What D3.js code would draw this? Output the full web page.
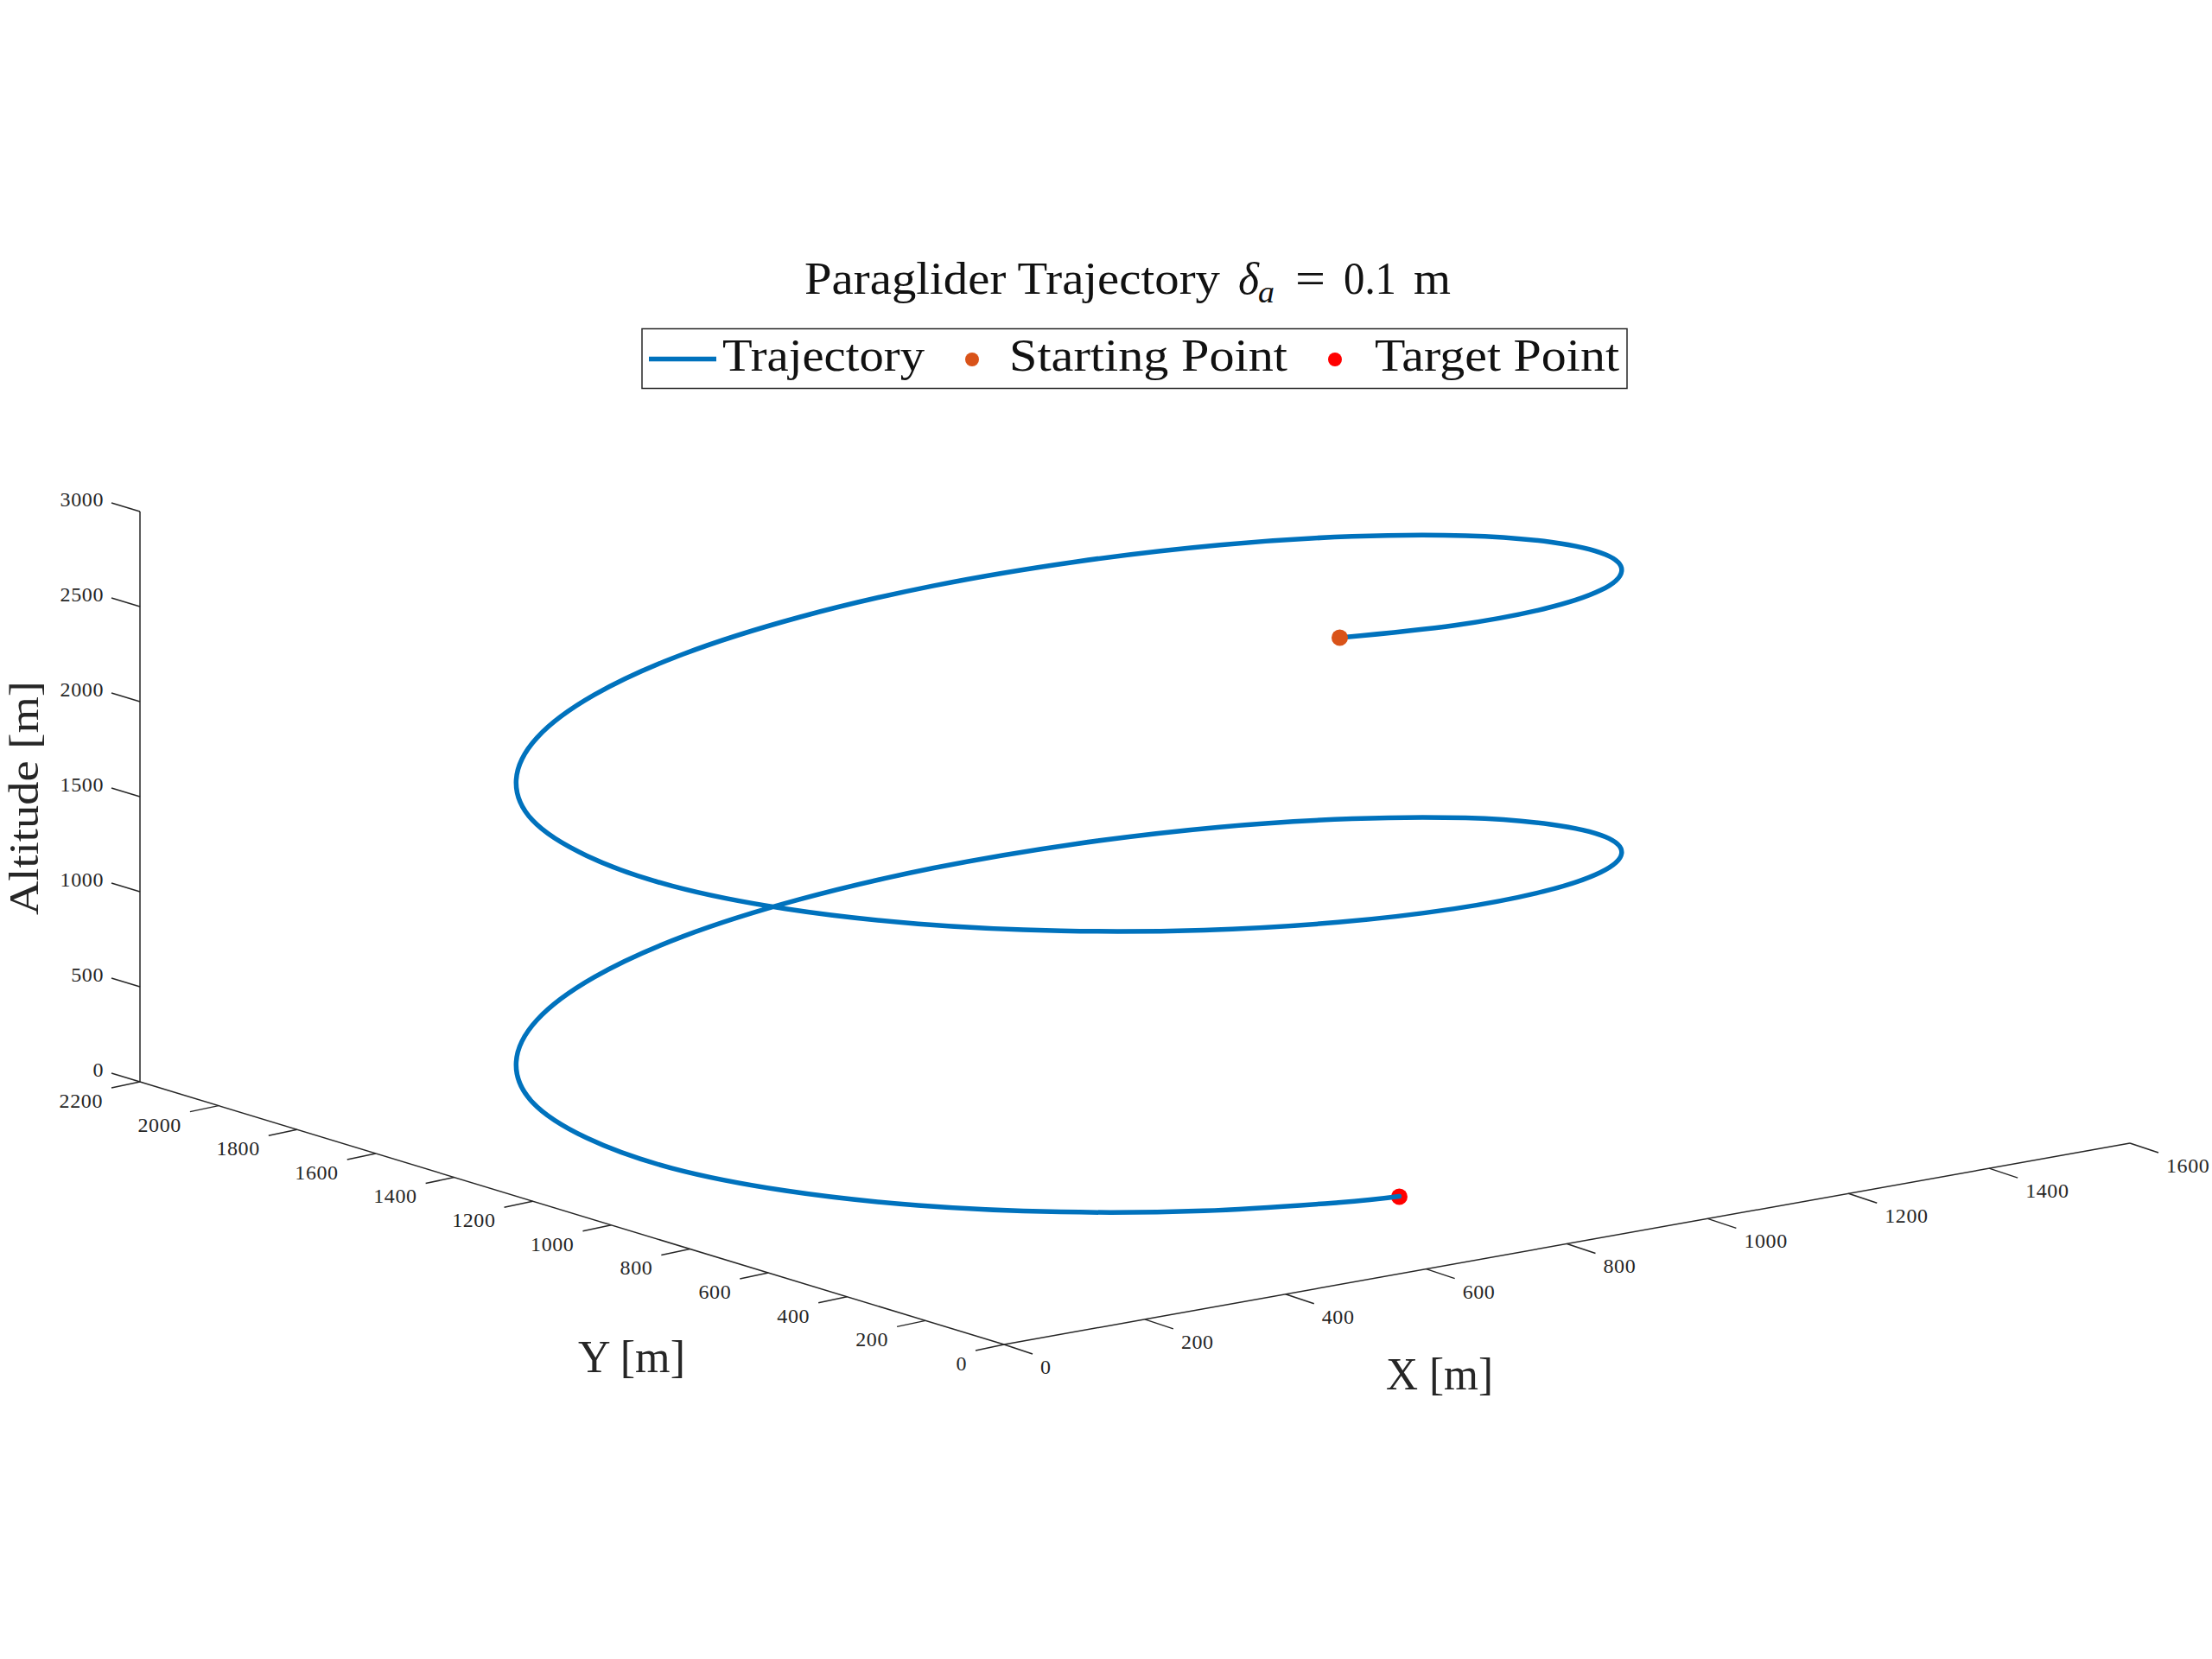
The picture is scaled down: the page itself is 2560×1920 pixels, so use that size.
<!DOCTYPE html>
<html><head><meta charset="utf-8">
<script src="https://cdn.jsdelivr.net/npm/d3@7/dist/d3.min.js"></script>
<style>html,body{margin:0;background:#fff}svg{display:block}text{font-family:"Liberation Serif",serif}</style>
</head><body><div id="c"></div>
<script>
// Trajectory (metres)
const trajX=[702,878,1043,1185,1294,1363,1386,1363,1294,1185,1043,878,700,522,357,215,106,37,15,37,106,215,357,522,700,878,1043,1185,1294,1363,1386,1363,1294,1185,1043,878,700,522,357,215,106,37,15,37,106,215,357,522,700,790];
const trajY=[403,426,495,604,746,911,1089,1267,1432,1574,1683,1752,1775,1752,1683,1574,1432,1267,1089,911,746,604,495,426,403,426,495,604,746,911,1089,1267,1432,1574,1683,1752,1775,1752,1683,1574,1432,1267,1089,911,746,604,495,426,403,409];
const trajZ=[3000,2934,2868,2804,2743,2681,2619,2557,2495,2433,2371,2310,2248,2186,2124,2062,2000,1938,1877,1815,1753,1691,1629,1567,1505,1444,1382,1320,1258,1196,1134,1072,1010,949,887,825,763,701,639,577,516,454,392,330,270,210,150,90,30,0];
const xTicks=[0,200,400,600,800,1000,1200,1400,1600];
const yTicks=[0,200,400,600,800,1000,1200,1400,1600,1800,2000,2200];
const zTicks=[0,500,1000,1500,2000,2500,3000];
const legendNames=["Trajectory","Starting Point","Target Point"];
const seriesColors=["#0072BD","#D95319","#FF0000"];
const ink="#262626";

const W=2560,H=1920,Ox=1162,Oy=1556;
// orthographic projection: each data axis contributes a screen dx and dy
const xDX=d3.scaleLinear([0,1600],[0,1303]), xDY=d3.scaleLinear([0,1600],[0,-233]);
const yDX=d3.scaleLinear([0,2200],[0,-1000]), yDY=d3.scaleLinear([0,2200],[0,-304]);
const zDY=d3.scaleLinear([0,3000],[0,-660]);
const proj=(x,y,z)=>[Ox+xDX(x)+yDX(y), Oy+xDY(x)+yDY(y)+zDY(z)];

const svg=d3.select("#c").append("svg").attr("width",W).attr("height",H).attr("viewBox",[0,0,W,H]);
svg.append("rect").attr("width",W).attr("height",H).attr("fill","#fff");

const ax=svg.append("g").attr("stroke",ink).attr("stroke-width",1.5).attr("fill","none");
const seg=(a,b)=>ax.append("line").attr("x1",a[0]).attr("y1",a[1]).attr("x2",b[0]).attr("y2",b[1]);
const xMax=xTicks[xTicks.length-1], yMax=yTicks[yTicks.length-1], zMax=zTicks[zTicks.length-1];
seg(proj(0,0,0),proj(xMax,0,0));
seg(proj(0,0,0),proj(0,yMax,0));
seg(proj(0,yMax,0),proj(0,yMax,zMax));

const tickText=(p,t,anchor)=>svg.append("text").attr("x",p[0]).attr("y",p[1]).attr("dy","0.33em")
  .attr("text-anchor",anchor).attr("font-size",24).attr("letter-spacing",0.6).attr("fill",ink).text(t);

xTicks.forEach(t=>{const p=proj(t,0,0);seg(p,[p[0]+33,p[1]+11]);tickText([p[0]+42,p[1]+26],t,"start");});
yTicks.forEach(t=>{const p=proj(0,t,0);seg(p,[p[0]-33,p[1]+7]);tickText([p[0]-43,p[1]+22],t,"end");});
zTicks.forEach(t=>{const p=proj(0,yMax,t);seg(p,[p[0]-33,p[1]-10]);tickText([p[0]-42,p[1]-14],t,"end");});

// Target marker sits under the line, start marker over it
const pts=trajX.map((x,i)=>proj(x,trajY[i],trajZ[i]));
const first=pts[0], last=pts[pts.length-1];
svg.append("circle").attr("cx",last[0]).attr("cy",last[1]+0.5).attr("r",9.5).attr("fill",seriesColors[2]);
svg.append("path").attr("d",d3.line().curve(d3.curveCatmullRom.alpha(0))(pts))
  .attr("fill","none").attr("stroke",seriesColors[0]).attr("stroke-width",5.5).attr("stroke-linecap","round");
svg.append("circle").attr("cx",first[0]).attr("cy",first[1]).attr("r",9.5).attr("fill",seriesColors[1]);

// Title
const label=(x,y,size,len,str,italic)=>svg.append("text").attr("x",x).attr("y",y).attr("font-size",size).attr("fill","#111")
  .attr("font-style",italic?"italic":"normal").attr("textLength",len).attr("lengthAdjust","spacingAndGlyphs").text(str);
label(931,340,52,481,"Paraglider Trajectory");
label(1433,340,52,24,"δ",true);
label(1456,350,36,19,"a",true);
label(1499,340,52,35,"=");
label(1555,340,52,61,"0.1");
label(1636,340,52,43,"m");

// Legend
const lg=svg.append("g");
lg.append("rect").attr("x",743).attr("y",380.5).attr("width",1140).attr("height",69)
  .attr("fill","#fff").attr("stroke",ink).attr("stroke-width",1.5);
lg.append("line").attr("x1",751).attr("x2",829).attr("y1",415.5).attr("y2",415.5).attr("stroke",seriesColors[0]).attr("stroke-width",5.5);
lg.append("circle").attr("cx",1125).attr("cy",416).attr("r",8).attr("fill",seriesColors[1]);
lg.append("circle").attr("cx",1545).attr("cy",416).attr("r",8).attr("fill",seriesColors[2]);
const lgX=[836,1168,1591], lgW=[234,322,283];
legendNames.forEach((n,i)=>lg.append("text").attr("x",lgX[i]).attr("y",429).attr("font-size",52).attr("fill","#111")
  .attr("textLength",lgW[i]).attr("lengthAdjust","spacingAndGlyphs").text(n));

// Axis labels
label(669,1588,52,124,"Y [m]").attr("fill",ink);
label(1604,1608,52,124,"X [m]").attr("fill",ink);
svg.append("text").attr("transform","translate(44,1059) rotate(-90)").attr("font-size",49).attr("fill",ink)
  .attr("textLength",271).attr("lengthAdjust","spacingAndGlyphs").text("Altitude [m]");
</script></body></html>
